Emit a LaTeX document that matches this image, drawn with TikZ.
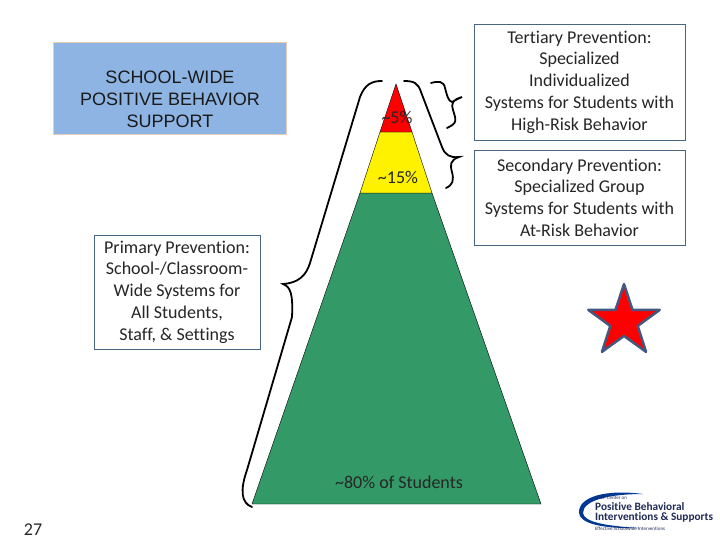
\documentclass[tikz,border=0pt]{standalone}
\usepackage{fontspec}
\setmainfont[Ligatures=NoCommon]{Carlito}
\newfontfamily\arialfont{Liberation Sans}
\usetikzlibrary{shapes.geometric}
\definecolor{boxedge}{HTML}{4A6580}
\definecolor{titlefill}{HTML}{8EB4E3}
\definecolor{titleedge}{HTML}{E6CDB8}
\definecolor{pyrgreen}{HTML}{339966}
\definecolor{stargray}{HTML}{44587F}
\definecolor{logonavy}{HTML}{1F2A55}
\tikzset{
  infobox/.style={draw=boxedge, fill=white, align=center, inner sep=0pt, font=\fontsize{18}{21.7}\selectfont, text=black!85},
  bracecurve/.style={line width=1.8pt, line cap=round},
  pyrlabel/.style={font=\fontsize{18}{20}\selectfont, text=black!85}
}

\begin{document}
\begin{tikzpicture}[x=1pt,y=-1pt]

\useasboundingbox (0,0) rectangle (720,540);

% vertices
\coordinate (A) at (396,84);
\coordinate (RL) at (380,132);
\coordinate (RR) at (412,132);
\coordinate (YL) at (360,193);
\coordinate (YR) at (432,193);
\coordinate (GL) at (252,504);
\coordinate (GR) at (541,504);

% pyramid
\filldraw[fill=pyrgreen, draw=black] (YL) -- (YR) -- (GR) -- (GL) -- cycle;
\filldraw[fill=yellow, draw=black] (RL) -- (RR) -- (YR) -- (YL) -- cycle;
\filldraw[fill=red, draw=black] (A) -- (RR) -- (RL) -- cycle;

\node[pyrlabel] (top) at (397,117) {\char`\~5\%};
\node[pyrlabel] (mid) at (398,177) {\char`\~15\%};
\node[pyrlabel] (base) at (399,482) {\char`\~80\% of Students};

% boxes
\node[draw=titleedge, line width=1.5pt, fill=titlefill, minimum width=233pt, minimum height=92pt] (titlebox) at (170,88.5) {};
\node[align=center, inner sep=0pt, font=\arialfont\fontsize{18}{22}\selectfont, text=black!90] (title) at (170,99) {SCHOOL-WIDE\\POSITIVE BEHAVIOR\\SUPPORT};
\node[infobox, minimum width=211pt, minimum height=116pt] (tertiary) at (579.5,82) {Tertiary Prevention:\\Specialized\\Individualized\\Systems for Students with\\High-Risk Behavior};
\node[infobox, minimum width=211pt, minimum height=95pt] (secondary) at (579.5,197.5) {Secondary Prevention:\\Specialized Group\\Systems for Students with\\At-Risk Behavior};
\node[infobox, minimum width=166pt, minimum height=114pt] (primary) at (177,292) {Primary Prevention:\\School-/Classroom-\\Wide Systems for\\All Students,\\Staff, \& Settings};

% braces
\draw[bracecurve] (382,81) .. controls (372,81) and (365,84) .. (360,97)
  -- (310,263) .. controls (306,276) and (298,283) .. (283,284)
  .. controls (291,287) and (293,295) .. (292,317)
  -- (247,470) .. controls (240,490) and (241,503) .. (252,507);
\draw[bracecurve] (404,81) .. controls (414,81) and (418,83) .. (421,92)
  -- (442,147) .. controls (445,155) and (450,158) .. (459,157)
  .. controls (450,160) and (450,165) .. (452,172)
  .. controls (454,180) and (453,185) .. (446,188);
\draw[bracecurve] (431,83) .. controls (438,81) and (444,81) .. (445,88)
  .. controls (447,95) and (448,101) .. (452,102)
  .. controls (456,100) and (459,98) .. (462,97)
  .. controls (452,100) and (451,104) .. (453,110)
  .. controls (456,120) and (458,123) .. (447,128);

% star
\node[star, star points=5, star point ratio=2.6, minimum size=75pt, inner sep=0pt, fill=red, draw=stargray, line width=2.5pt, line join=round] (goldstar) at (624,321.5) {};

% page number
\node[font=\fontsize{18}{20}\selectfont, text=black!85] (pagenum) at (33,530) {27};

% logo
\fill[blue!45!teal!80!black] (643,494) .. controls (605,489) and (578,497) .. (579,513) .. controls (580,523) and (600,529) .. (640,528) .. controls (605,526) and (584,522) .. (583,513) .. controls (583,500) and (610,494) .. (643,494) -- cycle;
\node[anchor=north west, inner sep=0pt, align=left, text=logonavy, font=\fontsize{11.3}{10.5}\selectfont] (logo) at (595,496.5) {{\fontsize{5}{6.5}\selectfont OSEP Center on}\\
  {\bfseries Positive Behavioral}\\
  {\bfseries Interventions \& Supports}\\[-1pt]
  {\fontsize{5}{6.5}\selectfont Effective Schoolwide Interventions}};

\end{tikzpicture}
\end{document}
